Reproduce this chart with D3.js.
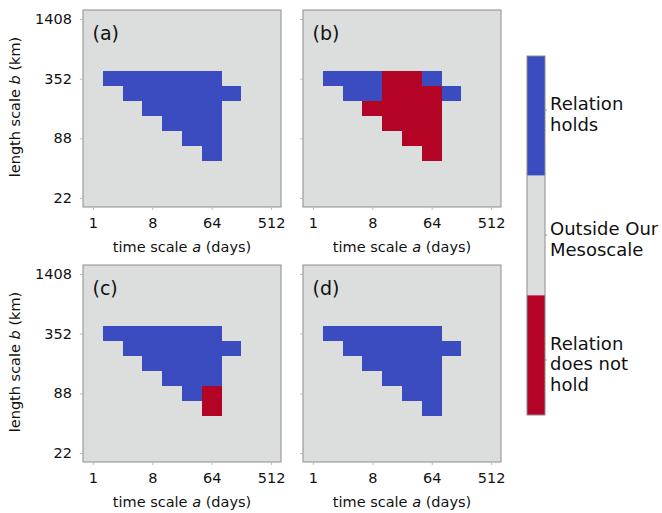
<!DOCTYPE html>
<html>
<head>
<meta charset="utf-8">
<script src="https://cdn.jsdelivr.net/npm/d3@7"></script>
<style>
  body { margin: 0; background: #fff; }
  svg { display: block; font-family: "DejaVu Sans", sans-serif; }
</style>
</head>
<body>
<div id="chart"></div>
<script>
// time scale a (days), one column per cell
var timeScales = [1, 2, 4, 8, 16, 32, 64, 128, 256, 512];
// length scale b (km), one row per cell (steps of sqrt 2)
var lengthScales = [352, 249, 176, 124.5, 88, 62.2];

var xTicks = [1, 8, 64, 512];
var yTicks = [22, 88, 352, 1408];

// 1 = relation holds, 0 = outside our mesoscale, -1 = relation does not hold
var panelA = [
    [0, 1, 1, 1, 1, 1, 1, 0, 0, 0],
    [0, 0, 1, 1, 1, 1, 1, 1, 0, 0],
    [0, 0, 0, 1, 1, 1, 1, 0, 0, 0],
    [0, 0, 0, 0, 1, 1, 1, 0, 0, 0],
    [0, 0, 0, 0, 0, 1, 1, 0, 0, 0],
    [0, 0, 0, 0, 0, 0, 1, 0, 0, 0]
];
var panelB = [
    [0, 1, 1, 1, -1, -1, 1, 0, 0, 0],
    [0, 0, 1, 1, -1, -1, -1, 1, 0, 0],
    [0, 0, 0, -1, -1, -1, -1, 0, 0, 0],
    [0, 0, 0, 0, -1, -1, -1, 0, 0, 0],
    [0, 0, 0, 0, 0, -1, -1, 0, 0, 0],
    [0, 0, 0, 0, 0, 0, -1, 0, 0, 0]
];
var panelC = [
    [0, 1, 1, 1, 1, 1, 1, 0, 0, 0],
    [0, 0, 1, 1, 1, 1, 1, 1, 0, 0],
    [0, 0, 0, 1, 1, 1, 1, 0, 0, 0],
    [0, 0, 0, 0, 1, 1, 1, 0, 0, 0],
    [0, 0, 0, 0, 0, 1, -1, 0, 0, 0],
    [0, 0, 0, 0, 0, 0, -1, 0, 0, 0]
];
var panelD = [
    [0, 1, 1, 1, 1, 1, 1, 0, 0, 0],
    [0, 0, 1, 1, 1, 1, 1, 1, 0, 0],
    [0, 0, 0, 1, 1, 1, 1, 0, 0, 0],
    [0, 0, 0, 0, 1, 1, 1, 0, 0, 0],
    [0, 0, 0, 0, 0, 1, 1, 0, 0, 0],
    [0, 0, 0, 0, 0, 0, 1, 0, 0, 0]
];

var legendStates = [1, 0, -1];
var legendLabels = [["Relation", "holds"], ["Outside Our", "Mesoscale"], ["Relation", "does not", "hold"]];

var width = 662, height = 513;
var panelW = 198, panelH = 197;
var colors = { "1": "#3b4cc0", "0": "#dcdddd", "-1": "#b40426" };

var svg = d3.select("#chart").append("svg")
    .attr("width", width)
    .attr("height", height);

var panels = [
    { label: "(a)", grid: panelA, x: 83, y: 10, yLabels: true },
    { label: "(b)", grid: panelB, x: 303, y: 10, yLabels: false },
    { label: "(c)", grid: panelC, x: 83, y: 265, yLabels: true },
    { label: "(d)", grid: panelD, x: 303, y: 265, yLabels: false }
];

var renderPanel = function(p) {
    var g = svg.append("g").attr("transform", "translate(" + p.x + "," + p.y + ")");

    var x = d3.scaleLog().base(2)
        .domain([Math.pow(2, -0.5), Math.pow(2, 9.5)])
        .range([0, panelW]);
    var y = d3.scaleLog().base(2)
        .domain([22 / Math.pow(2, 0.3), 1408 * Math.pow(2, 0.3)])
        .range([panelH, 0]);

    g.append("rect")
        .attr("width", panelW)
        .attr("height", panelH)
        .attr("fill", colors["0"]);

    var cells = [];
    p.grid.forEach(function(row, r) {
        row.forEach(function(v, c) {
            if (v !== 0) cells.push({ a: timeScales[c], b: lengthScales[r], v: v });
        });
    });

    g.selectAll("rect.cell")
        .data(cells)
        .enter().append("rect")
        .attr("class", "cell")
        .attr("x", d => Math.round(x(d.a / Math.SQRT2)))
        .attr("width", d => Math.round(x(d.a * Math.SQRT2)) - Math.round(x(d.a / Math.SQRT2)))
        .attr("y", d => Math.round(y(d.b * Math.pow(2, 0.25))))
        .attr("height", d => Math.round(y(d.b / Math.pow(2, 0.25))) - Math.round(y(d.b * Math.pow(2, 0.25))))
        .attr("fill", d => colors[String(d.v)])
        .attr("shape-rendering", "crispEdges");

    g.append("rect")
        .attr("width", panelW)
        .attr("height", panelH)
        .attr("fill", "none")
        .attr("stroke", "#8c8c8c")
        .attr("stroke-width", 1);

    var xAxis = g.append("g")
        .attr("transform", "translate(0," + panelH + ")")
        .call(d3.axisBottom(x).tickValues(xTicks).tickFormat(d3.format("d")).tickSize(3).tickPadding(8));
    var yAxis = g.append("g")
        .call(d3.axisLeft(y).tickValues(yTicks).tickFormat(d3.format("d")).tickSize(3).tickPadding(8));

    [xAxis, yAxis].forEach(function(ax) {
        ax.select(".domain").remove();
        ax.selectAll(".tick line").attr("stroke", "#bbbbbb");
        ax.selectAll(".tick text")
            .attr("fill", "#111")
            .attr("font-size", 14.5)
            .attr("font-family", "DejaVu Sans");
    });
    if (!p.yLabels) yAxis.selectAll(".tick text").remove();

    var xt = g.append("text")
        .attr("x", panelW / 2)
        .attr("y", panelH + 45)
        .attr("text-anchor", "middle")
        .attr("font-size", 14.5)
        .attr("fill", "#111");
    xt.append("tspan").text("time scale ");
    xt.append("tspan").attr("font-style", "italic").text("a");
    xt.append("tspan").text(" (days)");

    if (p.yLabels) {
        var yt = g.append("text")
            .attr("transform", "translate(" + (-63) + "," + (panelH / 2 - 1.5) + ") rotate(-90)")
            .attr("text-anchor", "middle")
            .attr("font-size", 14.5)
            .attr("fill", "#111");
        yt.append("tspan").text("length scale ");
        yt.append("tspan").attr("font-style", "italic").text("b");
        yt.append("tspan").text(" (km)");
    }

    g.append("text")
        .attr("x", 9.5)
        .attr("y", 29.5)
        .attr("font-size", 19)
        .attr("fill", "#111")
        .text(p.label);
};

panels.forEach(renderPanel);

// colorbar
var cbX = 527, cbW = 18;
var cb = d3.scaleBand().domain(legendStates).range([56, 415]);
var cbTick = d3.scalePoint().domain(legendStates).range([110, 360]);
var cbG = svg.append("g");
cbG.selectAll("rect.seg")
    .data(legendStates)
    .enter().append("rect")
    .attr("class", "seg")
    .attr("x", cbX)
    .attr("y", d => cb(d))
    .attr("width", cbW)
    .attr("height", cb.bandwidth())
    .attr("fill", d => colors[String(d)]);
cbG.append("rect")
    .attr("x", cbX)
    .attr("y", 56)
    .attr("width", cbW)
    .attr("height", 359)
    .attr("fill", "none")
    .attr("stroke", "#8c8c8c");
cbG.selectAll("line.tk")
    .data(legendStates)
    .enter().append("line")
    .attr("x1", cbX + cbW)
    .attr("x2", cbX + cbW + 2)
    .attr("y1", d => cbTick(d))
    .attr("y2", d => cbTick(d))
    .attr("stroke", "#999");
legendStates.forEach(function(s, i) {
    var lines = legendLabels[i];
    var lh = 20.7;
    var first = cbTick(s) + 10.3 - (lines.length - 1) * lh / 2;
    var t = cbG.append("text")
        .attr("font-size", 18)
        .attr("fill", "#111");
    lines.forEach(function(l, j) {
        t.append("tspan").attr("x", cbX + cbW + 5).attr("y", first + j * lh).text(l);
    });
});
</script>
</body>
</html>
